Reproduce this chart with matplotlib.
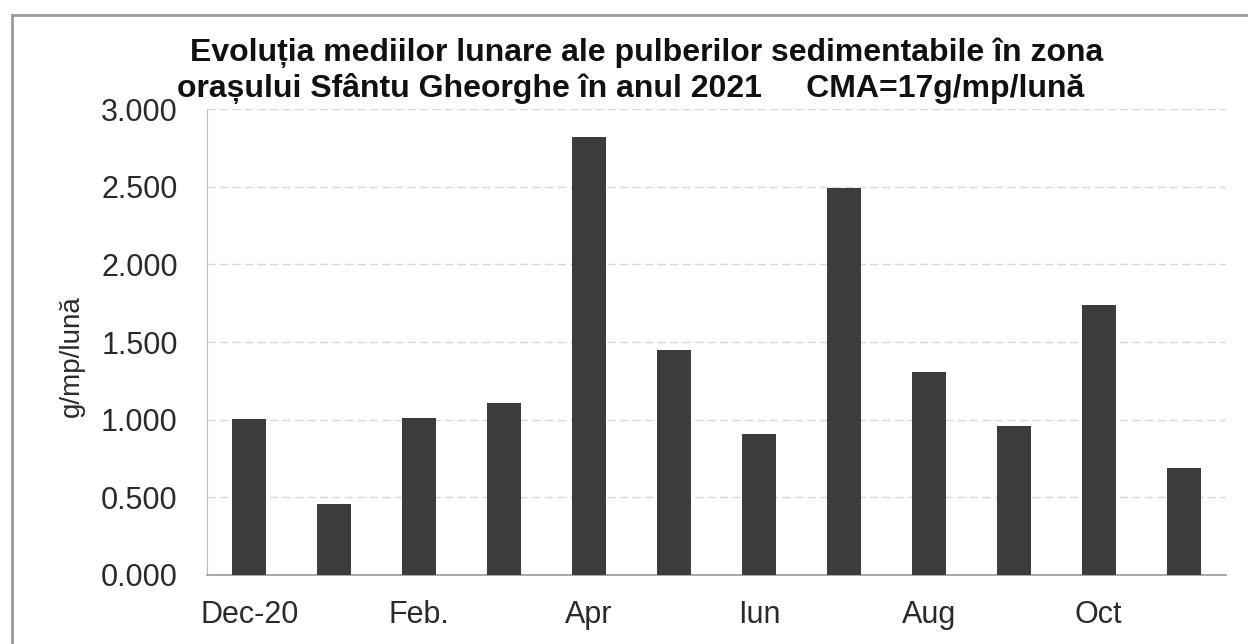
import matplotlib.pyplot as plt
from matplotlib.patches import Rectangle

plt.rcParams['font.family'] = ['Liberation Sans', 'DejaVu Sans']

# Monthly means, g/mp/luna
months = ["Dec-20", "Ian", "Feb.", "Mar", "Apr", "Mai", "Iun", "Iul", "Aug", "Sep", "Oct", "Nov"]
values = [1.006, 0.457, 1.010, 1.108, 2.820, 1.450, 0.910, 2.490, 1.310, 0.960, 1.735, 0.690]
shown_labels = ["Dec-20", "Feb.", "Apr", "Iun", "Aug", "Oct"]
yticks = [0.0, 0.5, 1.0, 1.5, 2.0, 2.5, 3.0]

fig = plt.figure(figsize=(12.48, 6.44), dpi=100)
ax = fig.add_axes([207 / 1248, 1 - 575 / 644, (1226 - 207) / 1248, (575 - 109) / 644])

x = range(len(months))
ax.bar(x, values, width=0.4, color='#3c3c3c', zorder=3)

ax.set_xlim(-0.5, len(months) - 0.5)
ax.set_ylim(0, 3.0)
ax.set_yticks(yticks)
ax.set_yticklabels([f"{v:.3f}" for v in yticks], fontsize=22, color='#2a2a2a')
ax.set_xticks([i for i, m in enumerate(months) if m in shown_labels])
ax.set_xticklabels([m for m in months if m in shown_labels], fontsize=22, color='#2a2a2a')
ax.tick_params(length=0)
ax.tick_params(axis='x', pad=18)
ax.tick_params(axis='y', pad=21)

ax.grid(axis='y', color='#d8d8d8', linestyle=(0, (6, 3)), linewidth=1, zorder=0)
for side in ['top', 'right']:
    ax.spines[side].set_visible(False)
ax.spines['left'].set_color('#bbbbbb')
ax.spines['bottom'].set_color('#999999')
ax.spines['bottom'].set_linewidth(1.2)

ax.set_ylabel("g/mp/lună", fontsize=20, color='#2a2a2a')
ax.yaxis.set_label_coords(-0.12, 0.47)

fig.text(647 / 1248, 1 - 53 / 644,
         "Evoluția mediilor lunare ale pulberilor sedimentabile în zona",
         ha='center', va='center', fontsize=23, fontweight='bold', color='#111111')
fig.text(631 / 1248, 1 - 89 / 644,
         "orașului Sfântu Gheorghe în anul 2021     CMA=17g/mp/lună",
         ha='center', va='center', fontsize=23, fontweight='bold', color='#111111')

# scanned frame around the chart
fig.patches.append(Rectangle((12 / 1248, -0.05), 1.2, 1 - 15 / 644 + 0.05,
                             transform=fig.transFigure, fill=False,
                             edgecolor='#9a9a9a', linewidth=2))

fig.savefig("out.png", dpi=100)
